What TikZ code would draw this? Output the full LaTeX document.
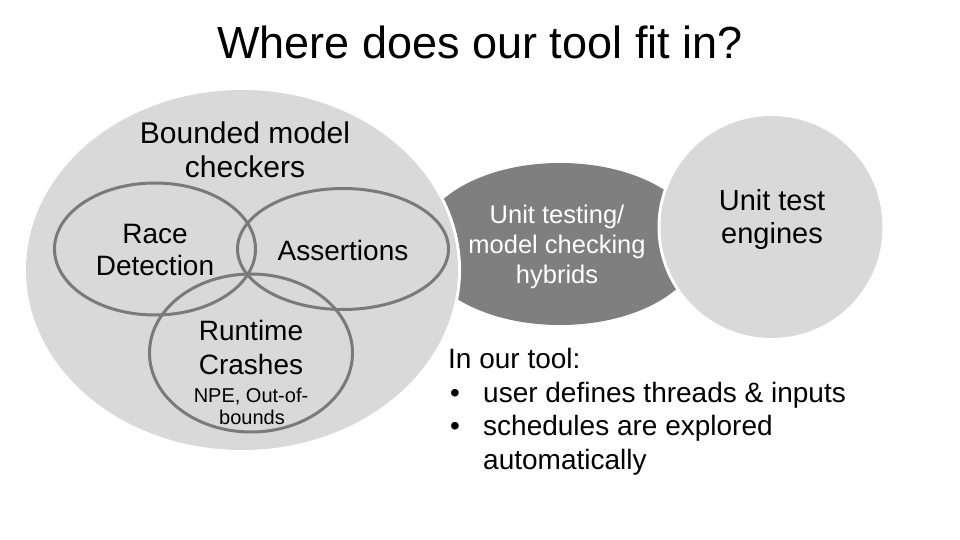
\documentclass[tikz,border=0pt]{standalone}
\usepackage{fontspec}
\setmainfont{Liberation Sans}
\definecolor{lightfill}{HTML}{D9D9D9}
\definecolor{darkfill}{HTML}{7F7F7F}
\definecolor{ringgray}{HTML}{7A7A7A}
\begin{document}
\begin{tikzpicture}[x=1pt,y=-1pt,
  txt/.style={inner sep=0pt, anchor=base},
  ltxt/.style={inner sep=0pt, anchor=base west},
  ring/.style={draw=ringgray, line width=3pt},
  big/.style={font=\fontsize{28}{32}\selectfont},
  small/.style={font=\fontsize{20}{23}\selectfont},
  hyb/.style={font=\fontsize{25.5}{30}\selectfont, text=white}]
\useasboundingbox (0,0) rectangle (960,540);
\fill[white] (0,0) rectangle (960,540);

% hybrid shape (dark), cut by the two neighbours with a thin white gap
\fill[darkfill] (560,244) ellipse [x radius=140pt, y radius=81pt];
\fill[white] (242,270) ellipse [x radius=219pt, y radius=183pt];
\fill[white] (771.5,227) circle [radius=114pt];
\fill[lightfill] (242,270) ellipse [x radius=216pt, y radius=180pt];
\fill[lightfill] (771.5,227) circle [radius=111pt];

% Venn rings
\draw[ring] (155,249) ellipse [x radius=100.5pt, y radius=66pt];
\draw[ring] (343,249) ellipse [x radius=105.5pt, y radius=60.5pt];
\draw[ring] (251,353) ellipse [x radius=101.5pt, y radius=79pt];

% texts
\node[txt, font=\fontsize{45}{52}\selectfont] (title) at (480,59) {Where does our tool fit in?};
\node[txt, font=\fontsize{30}{35}\selectfont] (bmc1) at (245,144) {Bounded model};
\node[txt, font=\fontsize{30}{35}\selectfont] (bmc2) at (245,178) {checkers};
\node[txt, big] (race1) at (155,243) {Race};
\node[txt, big] (race2) at (155,275) {Detection};
\node[txt, big] (assert) at (343,260) {Assertions};
\node[txt, big] (rt1) at (251,340) {Runtime};
\node[txt, big] (rt2) at (251,374) {Crashes};
\node[txt, small] (npe1) at (251,402) {NPE, Out-of-};
\node[txt, small] (npe2) at (252,424) {bounds};
\node[txt, hyb] (hy1) at (557,223) {Unit testing/};
\node[txt, hyb] (hy2) at (557,253) {model checking};
\node[txt, hyb] (hy3) at (557,283) {hybrids};
\node[txt, font=\fontsize{29}{33}\selectfont] (ute1) at (772,210) {Unit test};
\node[txt, font=\fontsize{29}{33}\selectfont] (ute2) at (772,243) {engines};
\node[ltxt, big] (our) at (448,368) {In our tool:};
\node[ltxt, big] (b1) at (450,402) {•};
\node[ltxt, big] (l1) at (483,402) {user defines threads \& inputs};
\node[ltxt, big] (b2) at (450,435) {•};
\node[ltxt, big] (l2) at (483,435) {schedules are explored};
\node[ltxt, big] (l3) at (483,469) {automatically};
\end{tikzpicture}
\end{document}
